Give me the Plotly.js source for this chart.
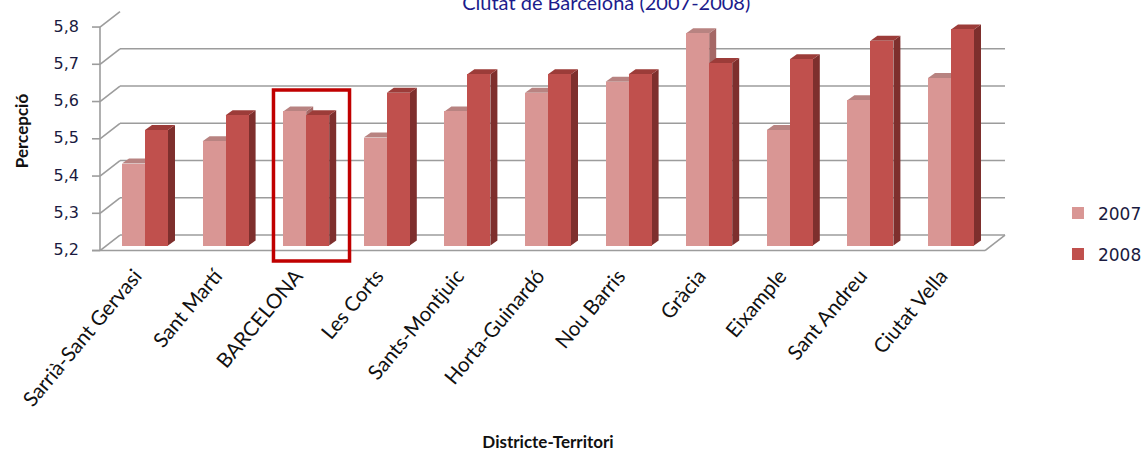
<!DOCTYPE html>
<html><head><meta charset="utf-8">
<script src="https://cdn.plot.ly/plotly-3.0.1.min.js"></script>
<style>html,body{margin:0;padding:0;background:#fff;} #chart{width:1146px;height:453px;}</style>
</head><body><div id="chart"></div>
<script>
// ---- data ----
const categories = ['Sarrià-Sant Gervasi','Sant Martí','BARCELONA','Les Corts','Sants-Montjuic','Horta-Guinardó','Nou Barris','Gràcia','Eixample','Sant Andreu','Ciutat Vella'];
const values2007 = [5.42,5.48,5.56,5.49,5.56,5.61,5.64,5.77,5.51,5.59,5.65];
const values2008 = [5.51,5.55,5.55,5.61,5.66,5.66,5.66,5.69,5.70,5.75,5.78];
const seriesNames = ['2007','2008'];
const yTickValues = [5.2,5.3,5.4,5.5,5.6,5.7,5.8];
const chartTitle = 'Ciutat de Barcelona (2007-2008)';
const xTitle = 'Districte-Territori';
const yTitle = 'Percepció';

// ---- style / geometry (pixel scale helpers) ----
const PXX = 80.6, PXY = 372.5;
const BASE = 5.2;
const barW = 23 / PXX;
const faceDx = 7 / PXX, faceDy = 5 / PXY;
const frontDy = -5 / PXY, backDy = 10.5 / PXY;
const frontX = -45 / PXX, backX = -25 / PXX, tickX0 = -53 / PXX;
const floorRightFront = 840 / PXX, backRight = 860 / PXX;
const colors = {
  f07: '#D99694', t07: '#B88381', s07: '#A56866',
  f08: '#C0504D', t08: '#9C3C39', s08: '#7E2F2D'
};
const gridColor = '#9c9c9c', gridW = 1.6;
const idx = categories.map((c, i) => i);

const shapes = [];
function line(x0, y0, x1, y1, layer) {
  shapes.push({type: 'line', xref: 'x', yref: 'y', x0, y0, x1, y1, layer: layer || 'below',
    line: {color: gridColor, width: gridW}});
}
// back wall gridlines & side-wall diagonals
yTickValues.forEach(v => {
  if (v < 5.8) line(backX, v + backDy, backRight, v + backDy);
  line(frontX, v + frontDy, backX, v + backDy);
  line(tickX0, v + frontDy, frontX, v + frontDy);
});
// front axis
line(frontX, BASE + frontDy, frontX, 5.8 + frontDy);
// floor
line(tickX0, BASE + frontDy, floorRightFront, BASE + frontDy);
line(floorRightFront, BASE + frontDy, backRight, BASE + backDy);

function faces(xl, v, top, side) {
  const xr = xl + barW;
  shapes.push({type: 'path', xref: 'x', yref: 'y', layer: 'below', line: {width: 0}, fillcolor: side,
    path: `M ${xr},${BASE} L ${xr},${v} L ${xr + faceDx},${v + faceDy} L ${xr + faceDx},${BASE + faceDy} Z`});
  shapes.push({type: 'path', xref: 'x', yref: 'y', layer: 'below', line: {width: 0}, fillcolor: top,
    path: `M ${xl},${v} L ${xr},${v} L ${xr + faceDx},${v + faceDy} L ${xl + faceDx},${v + faceDy} Z`});
}
idx.forEach(i => {
  faces(i - barW, values2007[i], colors.t07, colors.s07);
  faces(i, values2008[i], colors.t08, colors.s08);
});
// highlight box around BARCELONA
shapes.push({type: 'rect', xref: 'paper', yref: 'paper', x0: 0.2029, x1: 0.2852, y0: -0.033, y1: 0.668,
  layer: 'above', line: {color: '#C00000', width: 3.5}, fillcolor: 'rgba(0,0,0,0)'});

const traces = [
  {type: 'bar', name: seriesNames[0], legendgroup: 'a', x: idx, y: values2007.map(v => v - BASE), base: BASE,
   width: barW, offset: -barW, marker: {color: colors.f07, line: {width: 0}}},
  {type: 'bar', name: seriesNames[1], legendgroup: 'b', x: idx, y: values2008.map(v => v - BASE), base: BASE,
   width: barW, offset: 0, marker: {color: colors.f08, line: {width: 0}}}
];

const layout = {
  width: 1146, height: 453,
  margin: {l: 86, r: 136, t: 9, b: 200},
  paper_bgcolor: '#fff', plot_bgcolor: 'rgba(0,0,0,0)',
  separators: ',.',
  showlegend: true,
  title: {text: chartTitle, font: {family: 'Lato', size: 20, color: '#1c1c8c'},
    xref: 'container', yref: 'container', x: 0.529, xanchor: 'center', y: 0.977, yanchor: 'bottom'},
  xaxis: {range: [-0.732, 10.732], tickmode: 'array', tickvals: idx, ticktext: categories, tickangle: -50,
    automargin: false,
    showgrid: false, zeroline: false, showline: false, ticks: '', ticklabelshift: -10, ticklabelstandoff: 6,
    tickfont: {family: 'Lato', size: 20.5, color: '#111'},
    title: {text: xTitle, font: {family: 'Lato', size: 17, weight: 700, color: '#111'}, standoff: 26}},
  yaxis: {range: [5.18, 5.835], tickmode: 'array', tickvals: yTickValues, tickformat: '.1f',
    automargin: false,
    showgrid: false, zeroline: false, showline: false, ticks: '', ticklabelshift: 4, ticklabelstandoff: 6,
    tickfont: {family: 'DejaVu Sans', size: 16, color: '#1a1a40'},
    title: {text: yTitle, font: {family: 'Lato', size: 17, weight: 700, color: '#111'}, standoff: 20}},
  legend: {xref: 'container', yref: 'container', x: 0.9232, xanchor: 'left', y: 0.5686, yanchor: 'top',
    tracegroupgap: 16, traceorder: 'grouped',
    font: {family: 'DejaVu Sans', size: 17, color: '#1a1a40'}, bgcolor: 'rgba(0,0,0,0)'},
  shapes: shapes,
  bargap: 0
};
Plotly.newPlot('chart', traces, layout, {displayModeBar: false, staticPlot: true});
</script></body></html>
